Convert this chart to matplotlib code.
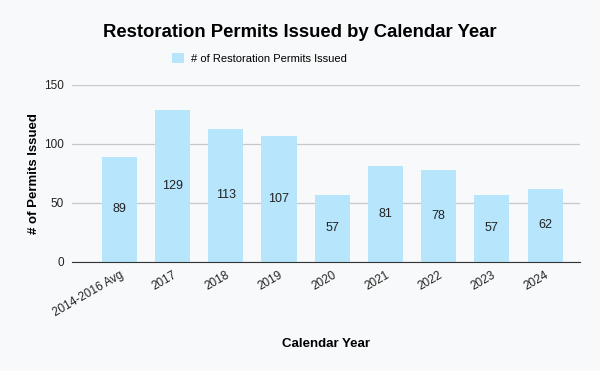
import matplotlib.pyplot as plt

categories = ['2014-2016 Avg', '2017', '2018', '2019', '2020', '2021', '2022', '2023', '2024']
permits = [89, 129, 113, 107, 57, 81, 78, 57, 62]

plt.rcParams['font.family'] = ['Liberation Sans', 'DejaVu Sans']

bg = '#f8f9fa'
fig = plt.figure(figsize=(6, 3.71), dpi=100, facecolor=bg)
ax = fig.add_axes([0.12, 0.294, 0.847, 0.477], facecolor=bg)

x = range(len(categories))
bars = ax.bar(x, permits, width=0.66, color='#b7e5fc', label='# of Restoration Permits Issued', zorder=2)
for xi, v in zip(x, permits):
    ax.text(xi, v / 2, str(v), ha='center', va='center', fontsize=9, color='#222222', zorder=3)

ax.set_xlim(-0.89, 8.66)
ax.set_ylim(0, 150)
ax.set_yticks([0, 50, 100, 150])
ax.yaxis.grid(True, color='#c8c8c8', linewidth=0.9, zorder=0)
for s in ['top', 'right', 'left']:
    ax.spines[s].set_visible(False)
ax.spines['bottom'].set_color('#333333')
ax.spines['bottom'].set_zorder(3)
ax.tick_params(axis='both', length=0, labelsize=8.5, colors='#222222')
ax.tick_params(axis='y', pad=6)
ax.tick_params(axis='x', pad=5)
ax.set_xticks(list(x))
ax.set_xticklabels(categories, rotation=30, ha='right', rotation_mode='anchor')

ax.set_ylabel('# of Permits Issued', fontsize=9.5, fontweight='bold', labelpad=3)
ax.set_xlabel('Calendar Year', fontsize=9.5, fontweight='bold', labelpad=14)

fig.suptitle('Restoration Permits Issued by Calendar Year', x=0.5, y=0.935, fontsize=13.3, fontweight='bold')
fig.legend(loc='center', bbox_to_anchor=(0.433, 0.843), frameon=False, fontsize=8,
           handlelength=1.0, handleheight=1.0, handletextpad=0.7)

fig.savefig('out.png', dpi=100, facecolor=bg)
